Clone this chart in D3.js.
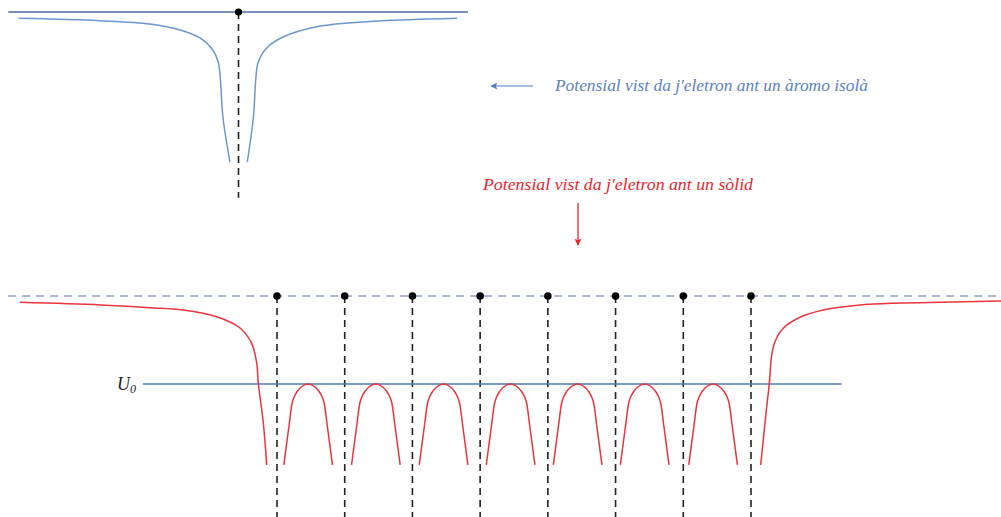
<!DOCTYPE html>
<html>
<head>
<meta charset="utf-8">
<script src="https://cdn.jsdelivr.net/npm/d3@7"></script>
<style>
  body { margin: 0; background: #fff; }
  svg { display: block; }
  .lbl { font-family: "Liberation Serif", "DejaVu Serif", serif; font-style: italic; }
</style>
</head>
<body>
<svg id="svg" width="1001" height="517"></svg>
<script>
// --- data (lattice units on x, energy units on y; 0 = vacuum level, -1 = U0) ---

// isolated atom: ion at 0
const atomIon = [0];
const atomLeft  = [[-3.25,-0.072],[-2.05,-0.099],[-1.31,-0.136],[-0.86,-0.205],[-0.57,-0.295],
                   [-0.38,-0.432],[-0.30,-0.568],[-0.27,-0.739],[-0.23,-1.193],[-0.126,-1.705]];
const atomRight = [[0.130,-1.705],[0.22,-1.193],[0.258,-0.739],[0.292,-0.568],[0.416,-0.409],
                   [0.657,-0.284],[1.155,-0.167],[1.893,-0.110],[3.23,-0.072]];

// solid: ions 0..7
const ions = [0, 1, 2, 3, 4, 5, 6, 7];
const archCenters = [0.46, 1.46, 2.46, 3.45, 4.44, 5.43, 6.44];
const archProfile = [[-0.359,-1.92],[-0.281,-1.466],[-0.236,-1.216],[-0.207,-1.148],[-0.162,-1.085],
                     [-0.118,-1.045],[-0.059,-1.012],[0,-1.0],[0.059,-1.012],[0.118,-1.045],
                     [0.162,-1.085],[0.207,-1.148],[0.236,-1.216],[0.281,-1.466],[0.359,-1.92]];
const solidLeft  = [[-3.80,-0.072],[-2.61,-0.102],[-1.88,-0.133],[-1.39,-0.159],[-0.89,-0.235],
                    [-0.546,-0.364],[-0.374,-0.538],[-0.300,-0.761],[-0.276,-0.992],[-0.202,-1.443],
                    [-0.152,-1.920]];
const solidRight = [[7.143,-1.920],[7.232,-1.258],[7.270,-1.0],[7.306,-0.670],[7.354,-0.519],
                    [7.477,-0.367],[7.724,-0.242],[8.068,-0.159],[8.807,-0.091],[9.791,-0.072],
                    [10.70,-0.057]];
const U0 = -1;
const vacuumSpan = [-3.97, 10.70];
const U0Span = [-1.98, 8.34];
const atomSpan = [-3.40, 3.39];
const atomDashDepth = -2.11;
const solidDashDepth = -2.55;

const labelAtom  = "Potensial vist da j'eletron ant un àromo isolà";
const labelSolid = "Potensial vist da j'eletron ant un sòlid";

// --- scales ---
const unit = 67.714;
const xB = d3.scaleLinear().domain([0, 7]).range([277, 277 + 7 * unit]);
const yB = d3.scaleLinear().domain([0, -1]).range([296, 384]);
const xT = d3.scaleLinear().domain([0, 1]).range([238.5, 238.5 + unit]);
const yT = d3.scaleLinear().domain([0, -1]).range([12, 100]);

const svg = d3.select("svg#svg");
const defs = svg.append("defs");
function marker(id, color) {
  defs.append("marker").attr("id", id).attr("viewBox", "0 0 10 10")
    .attr("refX", 9).attr("refY", 5).attr("markerWidth", 9).attr("markerHeight", 7)
    .attr("markerUnits", "userSpaceOnUse").attr("orient", "auto")
    .append("path").attr("d", "M0,0 L10,5 L0,10 L2,5 Z").attr("fill", color);
}
marker("arrBlue", "#4f7cc0");
marker("arrRed", "#e8262e");

const lineT = d3.line().x(d => xT(d[0])).y(d => yT(d[1])).curve(d3.curveCatmullRom.alpha(0.5));
const lineB = d3.line().x(d => xB(d[0])).y(d => yB(d[1])).curve(d3.curveCatmullRom.alpha(0.5));

// ---------- top: isolated atom ----------
const gAtom = svg.append("g");
gAtom.append("line")
  .attr("x1", xT(atomSpan[0])).attr("x2", xT(atomSpan[1]))
  .attr("y1", yT(0)).attr("y2", yT(0))
  .attr("stroke", "#4a6b9c").attr("stroke-width", 1.3);
gAtom.selectAll("line.ion").data(atomIon).enter().append("line").attr("class", "ion")
  .attr("x1", d => xT(d)).attr("x2", d => xT(d))
  .attr("y1", yT(0)).attr("y2", yT(atomDashDepth))
  .attr("stroke", "#222").attr("stroke-width", 1.6).attr("stroke-dasharray", "7,5");
gAtom.selectAll("path.well").data([atomLeft, atomRight]).enter().append("path").attr("class", "well")
  .attr("d", lineT).attr("fill", "none").attr("stroke", "#6d98cf").attr("stroke-width", 1.5);
gAtom.selectAll("circle").data(atomIon).enter().append("circle")
  .attr("cx", d => xT(d)).attr("cy", yT(0)).attr("r", 3.6).attr("fill", "#000");

// ---------- labels ----------
svg.append("line").attr("x1", 533).attr("x2", 491).attr("y1", 86).attr("y2", 86)
  .attr("stroke", "#4f7cc0").attr("stroke-width", 1.2).attr("marker-end", "url(#arrBlue)");
svg.append("text").attr("class", "lbl").attr("x", 555).attr("y", 91)
  .attr("font-size", 16).attr("fill", "#5b82c2")
  .attr("textLength", 313).attr("lengthAdjust", "spacingAndGlyphs").text(labelAtom);
svg.append("text").attr("class", "lbl").attr("x", 483).attr("y", 190)
  .attr("font-size", 16).attr("fill", "#e8262e")
  .attr("textLength", 270).attr("lengthAdjust", "spacingAndGlyphs").text(labelSolid);
svg.append("line").attr("x1", 578).attr("x2", 578).attr("y1", 203).attr("y2", 245)
  .attr("stroke", "#e8262e").attr("stroke-width", 1.3).attr("marker-end", "url(#arrRed)");

// ---------- bottom: solid ----------
const gSolid = svg.append("g");
gSolid.append("line")
  .attr("x1", xB(vacuumSpan[0])).attr("x2", xB(vacuumSpan[1]))
  .attr("y1", yB(0)).attr("y2", yB(0))
  .attr("stroke", "#8ea3c2").attr("stroke-width", 1.5).attr("stroke-dasharray", "8,6");
gSolid.selectAll("line.ion").data(ions).enter().append("line").attr("class", "ion")
  .attr("x1", d => xB(d)).attr("x2", d => xB(d))
  .attr("y1", yB(0)).attr("y2", yB(solidDashDepth))
  .attr("stroke", "#222").attr("stroke-width", 1.6).attr("stroke-dasharray", "7,5");
gSolid.append("line")
  .attr("x1", xB(U0Span[0])).attr("x2", xB(U0Span[1]))
  .attr("y1", yB(U0)).attr("y2", yB(U0))
  .attr("stroke", "#4f78b5").attr("stroke-width", 1.3);

const segs = [solidLeft]
  .concat(archCenters.map(c => archProfile.map(p => [c + p[0], p[1]])))
  .concat([solidRight]);
gSolid.selectAll("path.pot").data(segs).enter().append("path").attr("class", "pot")
  .attr("d", lineB).attr("fill", "none").attr("stroke", "#e8363e").attr("stroke-width", 1.5);

gSolid.selectAll("circle").data(ions).enter().append("circle")
  .attr("cx", d => xB(d)).attr("cy", yB(0)).attr("r", 3.8).attr("fill", "#000");

const u = gSolid.append("text").attr("class", "lbl").attr("x", xB(U0Span[0]) - 26).attr("y", yB(U0) + 6)
  .attr("font-size", 18).attr("fill", "#222");
u.append("tspan").text("U");
u.append("tspan").attr("font-size", 12).attr("dy", 3).text("0");
</script>
</body>
</html>
